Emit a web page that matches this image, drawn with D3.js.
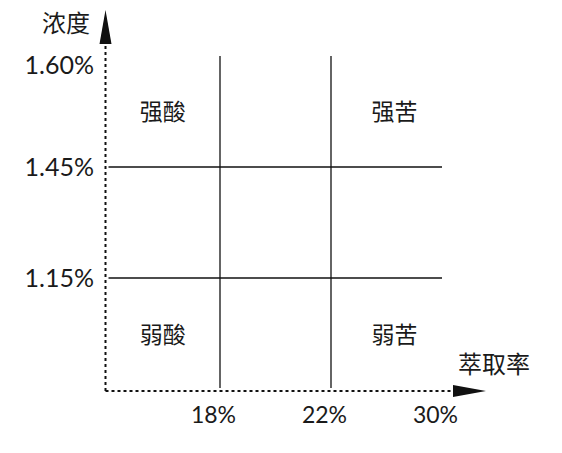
<!DOCTYPE html>
<html lang="zh">
<head>
    <meta charset="UTF-8">
    <title>浓度 / 萃取率</title>
    <script src="https://d3js.org/d3.v7.min.js"></script>
    <style>
        body { margin: 0; background: white; }
        .num { font-family: Lato, "Open Sans", sans-serif; fill: #1a1a1a; }
        .cjk { font-family: "Noto Sans CJK SC", sans-serif; fill: #1a1a1a; }
    </style>
</head>
<body>
    <svg id='svg'></svg>
    <script>
        // extraction cut points (x) and concentration cut points (y)
        const xCuts = ["18%", "22%", "30%"];
        const yCuts = ["1.15%", "1.45%", "1.60%"];
        // zone names, rows top to bottom, columns left to right
        const topRow = ["强酸", "强苦"];
        const bottomRow = ["弱酸", "弱苦"];
        const xTitle = "萃取率";
        const yTitle = "浓度";

        const width = 562;
        const height = 453;
        const x0 = 105.5;   // origin
        const y0 = 391;

        const svg = d3.select('#svg')
            .attr("width", width)
            .attr("height", height);

        const xScale = d3.scalePoint()
            .domain(xCuts)
            .range([220, 442]);
        const yScale = d3.scalePoint()
            .domain(yCuts)
            .range([278, 56]);

        // grid lines at the inner cuts
        const innerX = xCuts.slice(0, 2);
        const innerY = yCuts.slice(0, 2);
        svg.selectAll('line.vline')
            .data(innerX)
            .enter()
            .append('line')
            .attr('class', 'vline')
            .attr('x1', d => xScale(d)).attr('x2', d => xScale(d))
            .attr('y1', yScale(yCuts[2])).attr('y2', y0 - 3)
            .attr('stroke', '#111').attr('stroke-width', 1.3);
        svg.selectAll('line.hline')
            .data(innerY)
            .enter()
            .append('line')
            .attr('class', 'hline')
            .attr('y1', d => yScale(d)).attr('y2', d => yScale(d))
            .attr('x1', x0 + 3).attr('x2', xScale(xCuts[2]))
            .attr('stroke', '#111').attr('stroke-width', 1.3);

        // dashed axes with arrows
        svg.append('line')
            .attr('x1', x0).attr('y1', y0).attr('x2', x0).attr('y2', 44)
            .attr('stroke', '#111').attr('stroke-width', 2)
            .attr('stroke-dasharray', '3,3');
        svg.append('path')
            .attr('d', `M${x0 - 6},44 L${x0},10 L${x0 + 6},44 Z`)
            .attr('fill', '#111');
        svg.append('line')
            .attr('x1', x0).attr('y1', y0).attr('x2', 453).attr('y2', y0)
            .attr('stroke', '#111').attr('stroke-width', 2)
            .attr('stroke-dasharray', '3,3');
        svg.append('path')
            .attr('d', `M453,${y0 - 6} L486,${y0} L453,${y0 + 6} Z`)
            .attr('fill', '#111');

        // tick labels through d3 axes
        const xAxis = d3.axisBottom(xScale).tickSize(0).tickPadding(0);
        svg.append('g')
            .attr('transform', `translate(-7,${y0 + 32})`)
            .call(xAxis)
            .call(g => g.select('.domain').remove())
            .selectAll('text')
            .attr('class', 'num')
            .attr('dy', 0)
            .style('font-size', '23px');

        const yAxis = d3.axisLeft(yScale).tickSize(0).tickPadding(0);
        svg.append('g')
            .attr('transform', `translate(94,0)`)
            .call(yAxis)
            .call(g => g.select('.domain').remove())
            .selectAll('text')
            .attr('class', 'num')
            .attr('dy', (d, i) => i === yCuts.length - 1 ? '0.68em' : '0.34em')
            .style('font-size', '25px');

        // axis titles
        svg.append('text')
            .attr('class', 'cjk')
            .attr('x', 66).attr('y', 32)
            .attr('text-anchor', 'middle')
            .style('font-size', '24px')
            .text(yTitle);
        svg.append('text')
            .attr('class', 'cjk')
            .attr('x', 494).attr('y', 373)
            .attr('text-anchor', 'middle')
            .style('font-size', '24px')
            .text(xTitle);

        // zone labels centred in the corner cells
        const colX = [(x0 + xScale(xCuts[0])) / 2, (xScale(xCuts[1]) + xScale(xCuts[2])) / 2 + 8];
        const rowY = [(yScale(yCuts[1]) + yScale(yCuts[2])) / 2, (yScale(yCuts[0]) + y0) / 2];
        [topRow, bottomRow].forEach((row, r) => {
            svg.selectAll('text.zone' + r)
                .data(row)
                .enter()
                .append('text')
                .attr('class', 'cjk zone' + r)
                .attr('x', (d, i) => colX[i])
                .attr('y', rowY[r])
                .attr('dy', '0.35em')
                .attr('text-anchor', 'middle')
                .style('font-size', '23px')
                .text(d => d);
        });
    </script>
</body>
</html>
